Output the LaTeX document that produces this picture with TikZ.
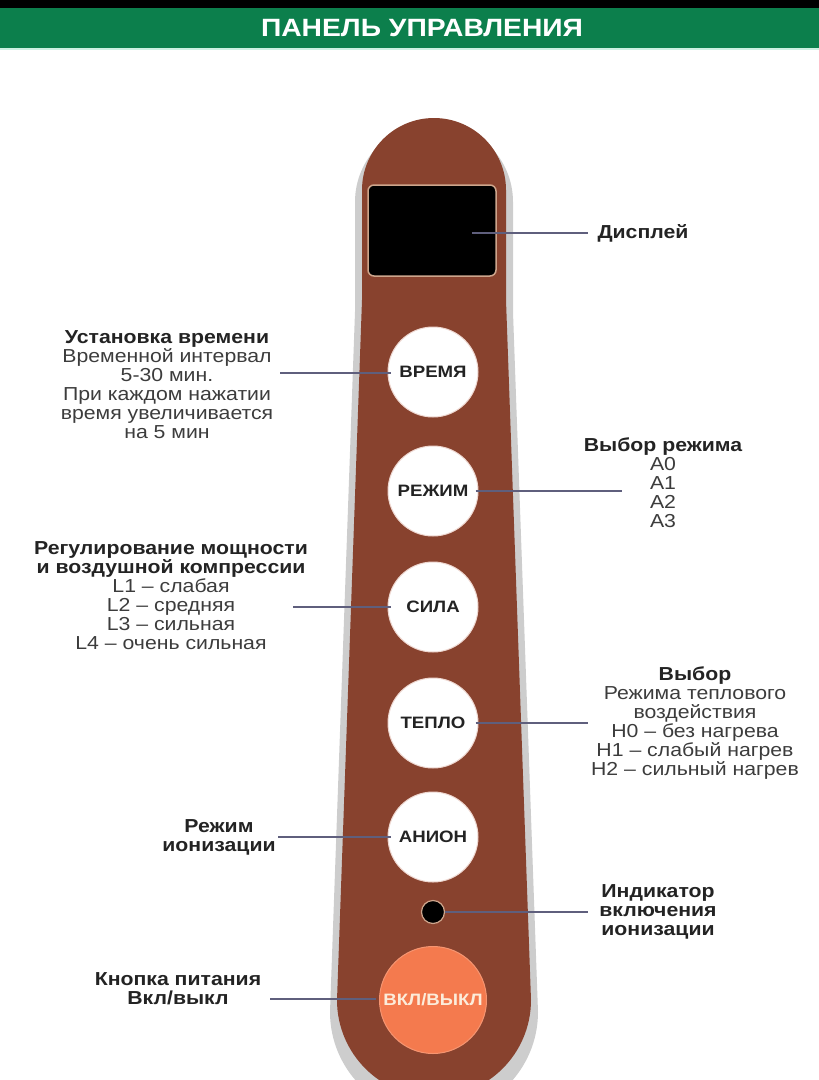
\documentclass[tikz,border=0pt]{standalone}
\usepackage{fontspec}
\setmainfont{Liberation Sans}[FakeStretch=1.13]
\usetikzlibrary{calc}
\definecolor{hdrgreen}{RGB}{12,127,76}
\definecolor{hdrline}{RGB}{205,240,226}
\definecolor{panelbrown}{RGB}{136,66,46}
\definecolor{panelshadow}{RGB}{205,205,205}
\definecolor{coral}{RGB}{244,122,78}
\definecolor{cream}{RGB}{252,236,218}
\definecolor{tanrim}{RGB}{205,165,140}
\definecolor{btnrim}{RGB}{238,215,208}
\definecolor{txtdark}{RGB}{35,35,35}
\definecolor{txtgray}{RGB}{60,60,60}
\definecolor{leader}{RGB}{95,95,125}
\begin{document}
\begin{tikzpicture}[x=1pt,y=-1pt,
  lbl/.style={font=\fontsize{18.8}{19}\selectfont, text=txtgray, align=center, inner sep=0pt},
  blbl/.style={lbl, text=txtdark, font=\fontsize{18.8}{19}\selectfont\bfseries},
  btn/.style={circle, fill=white, draw=btnrim, line width=1pt, minimum size=90pt, inner sep=0pt,
              text=txtdark, font=\fontsize{16.5}{18}\selectfont\bfseries},
  conn/.style={draw=leader, line width=1.3pt}]
\useasboundingbox (0,0) rectangle (819,1080);
\clip (0,0) rectangle (819,1080);
% header
\fill[black] (0,0) rectangle (819,8);
\fill[hdrgreen] (0,8) rectangle (819,48);
\fill[hdrline] (0,48) rectangle (819,50);
\node[font=\fontsize{25}{28}\selectfont\bfseries, text=white, inner sep=0pt] (title) at (422,28) {ПАНЕЛЬ УПРАВЛЕНИЯ};
% panel
\def\panelpath{(362,190) arc[start angle=180, end angle=360, radius=72] -- (506,300) -- (531,1000) arc[start angle=0, end angle=180, radius=97] -- (362,300) -- cycle}
\begin{scope}[shift={(0,12)}]
\draw[panelshadow, fill=panelshadow, line width=14pt, line join=round] \panelpath;
\end{scope}
\fill[panelbrown] \panelpath;
% display
\node[draw=tanrim, fill=black, line width=1.5pt, rounded corners=6pt, minimum width=128pt, minimum height=91pt, inner sep=0pt] (disp) at (432,230.5) {};
% buttons
\node[btn] (bTime) at (433,372) {ВРЕМЯ};
\node[btn] (bMode) at (433,491) {РЕЖИМ};
\node[btn] (bPow) at (433,607) {СИЛА};
\node[btn] (bHeat) at (433,723) {ТЕПЛО};
\node[btn] (bAnion) at (433,837) {АНИОН};
\node[circle, fill=black, draw=tanrim, line width=1.2pt, minimum size=23pt, inner sep=0pt] (ind) at (433,912) {};
\node[circle, fill=coral, draw=coral!80!white, line width=1pt, minimum size=107pt, inner sep=0pt,
      text=cream, font=\fontsize{16.5}{18}\selectfont\bfseries] (bOn) at (433,1000) {ВКЛ/ВЫКЛ};
% labels
\node[blbl] (lDisp) at (643,233) {Дисплей};
\node[lbl] (lTime) at (167,384.5) {{\bfseries\color{txtdark}Установка времени}\\Временной интервал\\5-30 мин.\\При каждом нажатии\\время увеличивается\\на 5 мин};
\node[lbl] (lMode) at (663,483) {{\bfseries\color{txtdark}Выбор режима}\\A0\\A1\\A2\\A3};
\node[lbl] (lPow) at (171,596) {{\bfseries\color{txtdark}Регулирование мощности}\\{\bfseries\color{txtdark}и воздушной компрессии}\\L1 -- слабая\\L2 -- средняя\\L3 -- сильная\\L4 -- очень сильная};
\node[lbl] (lHeat) at (695,723.5) {{\bfseries\color{txtdark}Выбор}\\Режима теплового\\воздействия\\H0 -- без нагрева\\H1 -- слабый нагрев\\H2 -- сильный нагрев};
\node[blbl] (lAnion) at (219,837.5) {Режим\\ионизации};
\node[blbl] (lInd) at (658,912) {Индикатор\\включения\\ионизации};
\node[blbl] (lOn) at (178,988.5) {Кнопка питания\\Вкл/выкл};
% connector end points
\coordinate (pDisp) at (472,233);
\coordinate (eDisp) at (588,233);
\coordinate (eTime) at (280,373);
\coordinate (eMode) at (622,491);
\coordinate (ePow) at (293,607);
\coordinate (eHeat) at (588,723);
\coordinate (eAnion) at (278,837);
\coordinate (eInd) at (588,912);
\coordinate (eOn) at (270,999);
% connectors
\draw[conn] (pDisp) -- (eDisp);
\draw[conn] (eTime) -- ([xshift=3pt]bTime.west |- eTime);
\draw[conn] ([xshift=-3pt]bMode.east |- eMode) -- (eMode);
\draw[conn] (ePow) -- ([xshift=3pt]bPow.west |- ePow);
\draw[conn] ([xshift=-3pt]bHeat.east |- eHeat) -- (eHeat);
\draw[conn] (eAnion) -- ([xshift=3pt]bAnion.west |- eAnion);
\draw[conn] (ind.east) -- (eInd);
\draw[conn] (eOn) -- ([xshift=-3pt]bOn.west |- eOn);
\end{tikzpicture}
\end{document}
